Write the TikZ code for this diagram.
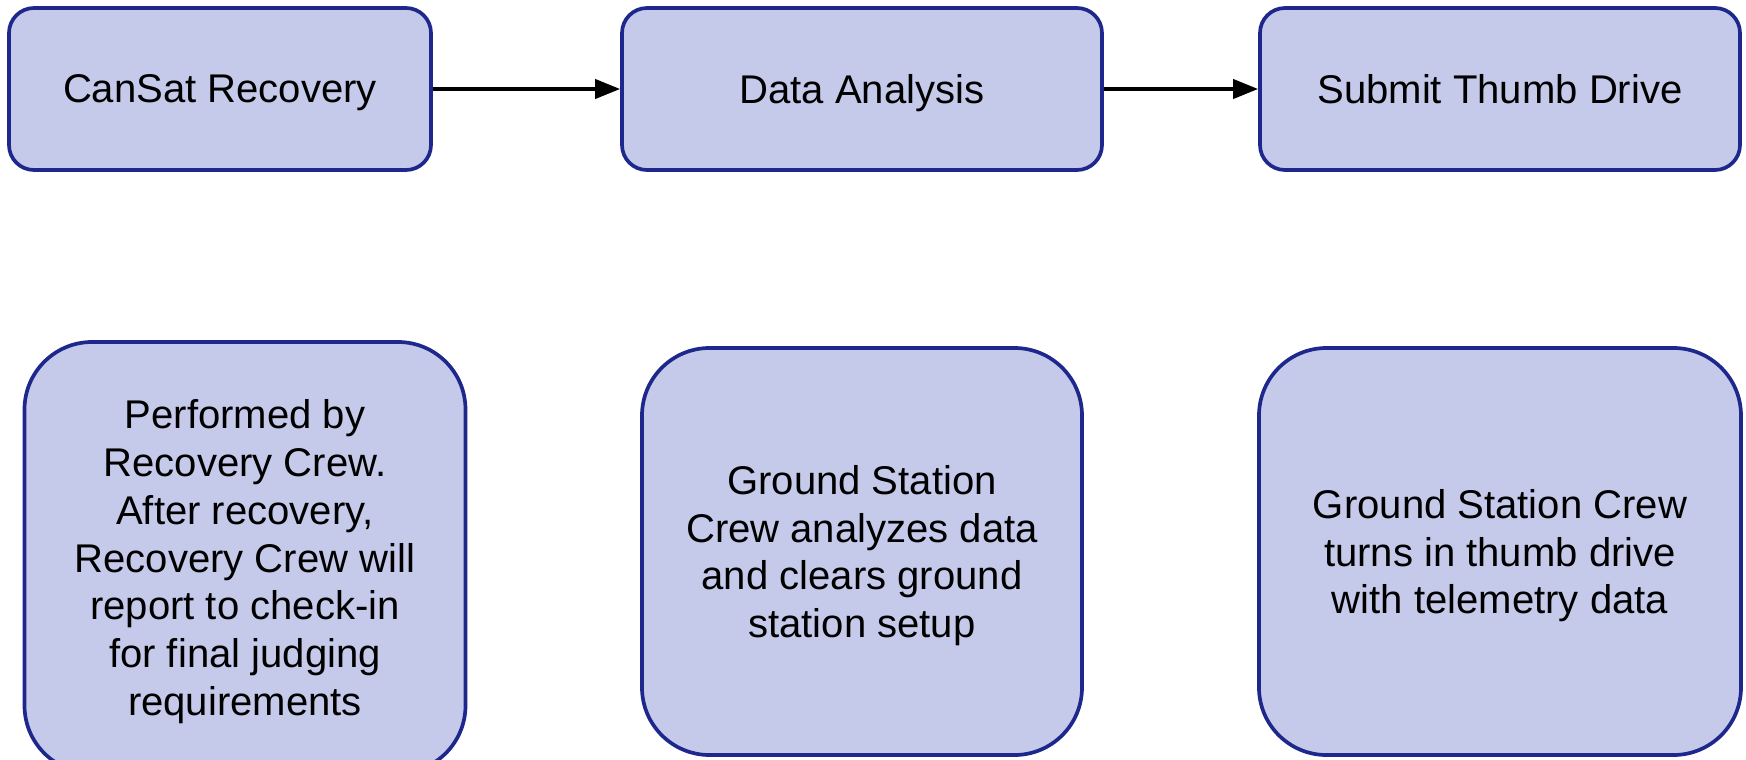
\documentclass[tikz,border=0pt]{standalone}
\usepackage{fontspec}
\setmainfont{Liberation Sans}
\usetikzlibrary{arrows.meta}

\definecolor{boxfill}{RGB}{198,202,234}
\definecolor{boxline}{RGB}{30,40,140}

\tikzset{
  stage/.style={rectangle, rounded corners=0.5cm, draw=boxline, fill=boxfill,
    line width=2.1pt, minimum height=3.24cm, align=center, text depth=0pt,
    font=\fontsize{22.8}{27.2}\selectfont},
  note/.style={stage, rounded corners=1.35cm, minimum height=8.14cm},
  flow/.style={line width=2.2pt, -{Triangle[length=0.5cm,width=0.38cm]}}
}

\begin{document}
\begin{tikzpicture}

\useasboundingbox (0,0) rectangle (34.92,-15.18);

\node [stage, minimum width=8.44cm] (s1) at (4.40,-1.78) {CanSat Recovery};
\node [stage, minimum width=9.60cm] (s2) at (17.24,-1.78) {Data Analysis};
\node [stage, minimum width=9.60cm] (s3) at (30.00,-1.78) {Submit Thumb Drive};
\draw  (s1) edge [flow] (s2);
\draw  (s2) edge [flow] (s3);

\node [note, minimum width=8.82cm, minimum height=8.62cm] (n1) at (4.90,-11.15)
  {Performed by\\ Recovery Crew.\\ After recovery,\\ Recovery Crew will\\ report to check-in\\ for final judging\\ requirements};
\node [note, minimum width=8.80cm] (n2) at (17.24,-11.03)
  {Ground Station\\ Crew analyzes data\\ and clears ground\\ station setup};
\node [note, minimum width=9.64cm] (n3) at (30.00,-11.03)
  {Ground Station Crew\\ turns in thumb drive\\ with telemetry data};

\end{tikzpicture}
\end{document}
